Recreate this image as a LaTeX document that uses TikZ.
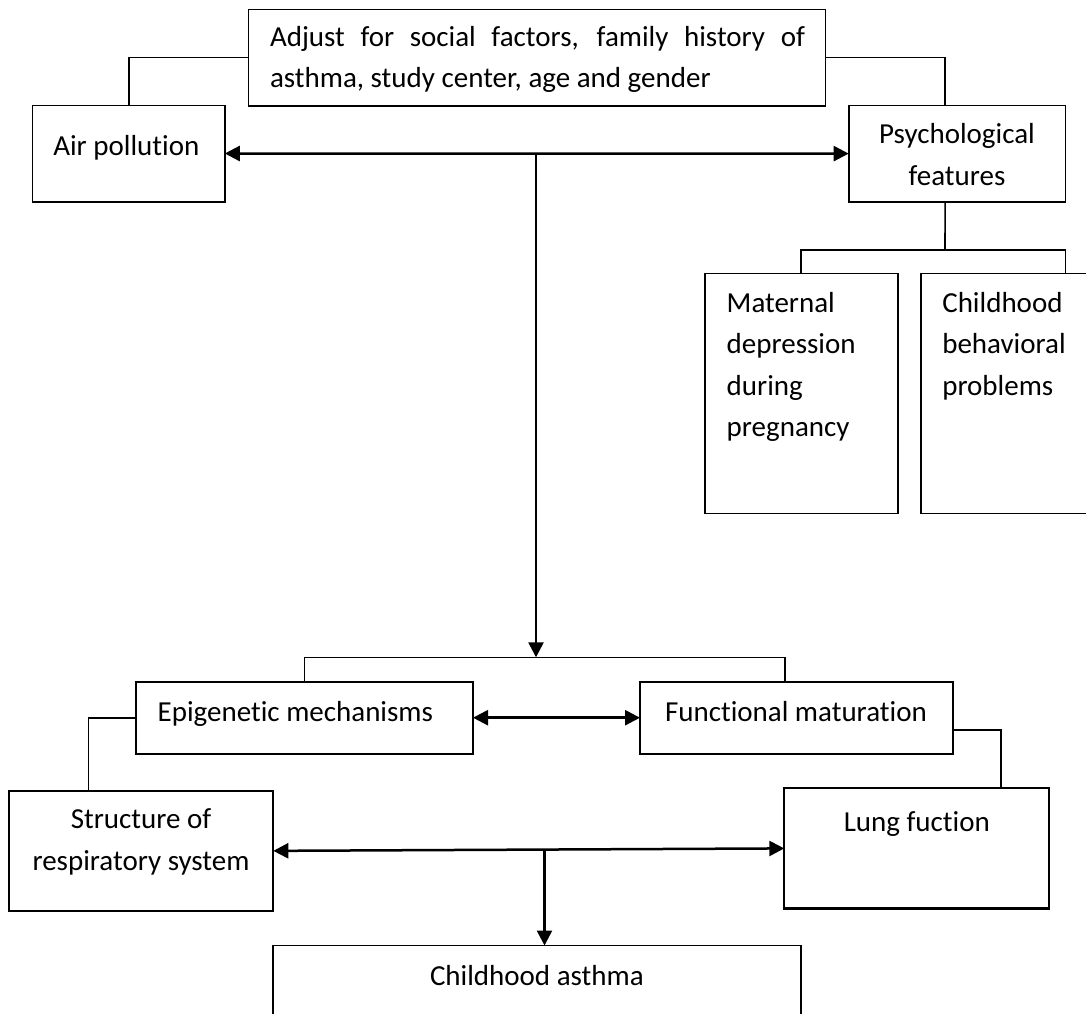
\documentclass[tikz,border=0pt]{standalone}
\usepackage{fontspec}
\setmainfont{Carlito}[RawFeature={-liga;-clig}]
\usetikzlibrary{arrows.meta}
\begin{document}
\begin{tikzpicture}[x=1pt,y=-1pt,
  box/.style={draw=black, line width=1.6pt, inner sep=0pt, outer sep=0pt},
  thickbox/.style={box, line width=2.3pt},
  conn/.style={draw=black, line width=1.6pt},
  arr/.style={draw=black, line width=2.5pt, -{Triangle[length=15pt,width=15pt]}},
  darr/.style={draw=black, line width=2.5pt, {Triangle[length=15pt,width=15pt]}-{Triangle[length=15pt,width=15pt]}},
  txt/.style={inner sep=0pt, outer sep=0pt, font=\fontsize{29}{41.3}\selectfont}]
\fill[white] (0,0) rectangle (1086,1013);
\useasboundingbox (0,0) rectangle (1086,1013);
\clip (0,0) rectangle (1086,1013);

% boxes
\node[box, minimum width=577pt, minimum height=96.4pt] (top) at (536.8,57.5) {};
\node[box, minimum width=192.2pt, minimum height=96.4pt] (air) at (128.7,153.5) {};
\node[box, minimum width=216.8pt, minimum height=96.2pt] (psych) at (957.1,153.6) {};
\node[box, minimum width=193pt, minimum height=240pt] (mat) at (801.2,393.3) {};
\node[box, minimum width=189.3pt, minimum height=240pt] (childb) at (1015.35,393.3) {};
\node[box, minimum width=337pt, minimum height=72pt] (epi) at (304.5,717.7) {};
\node[box, minimum width=313pt, minimum height=72pt] (func) at (796.5,717.7) {};
\node[thickbox, minimum width=264.6pt, minimum height=120.3pt] (struct) at (141,850.85) {};
\node[thickbox, minimum width=265pt, minimum height=120.2pt] (lung) at (916.8,848.4) {};
\node[box, minimum width=528.3pt, minimum height=94.5pt] (ca) at (536.85,992.75) {};

% texts
\node[txt, anchor=base west] (t1) at (270,46.7) {\makebox[535pt][s]{Adjust for social factors, family history of}};
\node[txt, anchor=base west] (t2) at (270,87.5) {asthma, study center, age and gender};
\node[txt, anchor=base west] (airT) at (53.3,155.3) {Air pollution};
\node[txt, anchor=base] (psT1) at (957,143.7) {Psychological};
\node[txt, anchor=base] (psT2) at (957,185.2) {features};
\node[txt, anchor=base west] (mT1) at (726.7,312) {Maternal};
\node[txt, anchor=base west] (mT2) at (726.7,353.5) {depression};
\node[txt, anchor=base west] (mT3) at (726.7,395) {during};
\node[txt, anchor=base west] (mT4) at (726.7,436.5) {pregnancy};
\node[txt, anchor=base west] (cT1) at (942.3,312) {Childhood};
\node[txt, anchor=base west] (cT2) at (942.3,353.5) {behavioral};
\node[txt, anchor=base west] (cT3) at (942.3,395) {problems};
\node[txt, anchor=base west] (eT) at (157.7,721.7) {Epigenetic mechanisms};
\node[txt, anchor=base west] (fT) at (665,721.7) {Functional maturation};
\node[txt, anchor=base] (sT1) at (141,828.7) {Structure of};
\node[txt, anchor=base] (sT2) at (141,870) {respiratory system};
\node[txt, anchor=base] (lT) at (916.8,831) {Lung fuction};
\node[txt, anchor=base] (caT) at (536.9,985.5) {Childhood asthma};

% connectors
\draw[conn] (top.west) -| (air.north);
\draw[conn] (top.east) -| ([xshift=-12pt]psych.north);
\coordinate (pj) at (945,250);
\draw[conn] ([xshift=-12pt]psych.south) -- (pj);
\draw[conn] (mat.north) |- (pj) -| (childb.north -| psych.east);

\draw[darr] (air.east) -- (psych.west);
\coordinate (m1) at (536,154);
\coordinate (jb) at (536,657.3);
\draw[arr] (m1) -- (jb);
\draw[conn] (epi.north) |- (jb) -| ([xshift=-11.8pt]func.north);

\draw[darr] (epi.east) -- (func.west);
\draw[conn] (epi.west) -| ([xshift=-52.7pt]struct.north);
\draw[conn] ([yshift=-12.3pt]func.east) -| ([xshift=83.9pt]lung.north);

\draw[darr] (struct.east) -- (lung.west);
\coordinate (m2) at (544.5,849.9);
\draw[arr] (m2) -- (m2 |- ca.north);
\end{tikzpicture}
\end{document}
